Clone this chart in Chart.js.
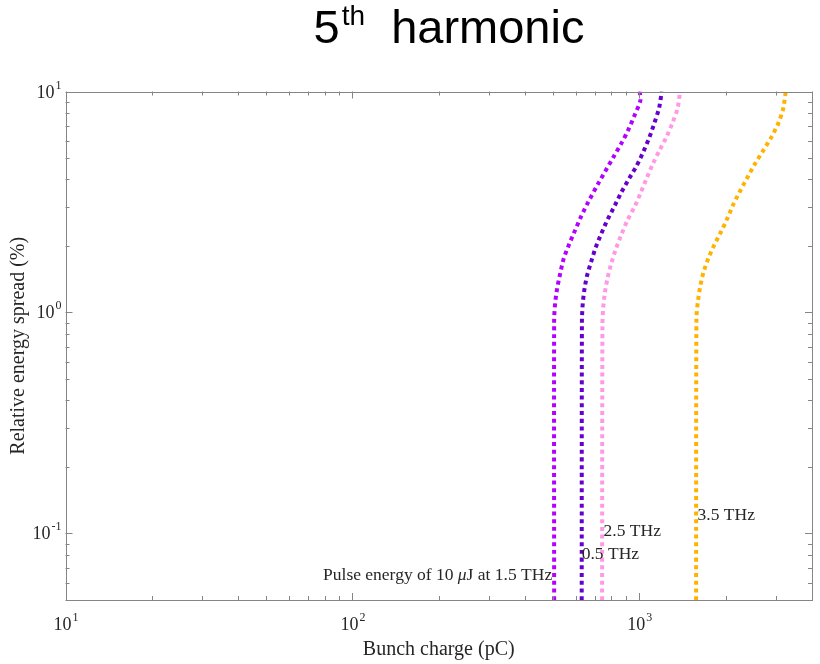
<!DOCTYPE html>
<html>
<head>
<meta charset="utf-8">
<script src="https://cdn.jsdelivr.net/npm/chart.js@4/dist/chart.umd.min.js"></script>
<style>
  html, body { margin: 0; padding: 0; background: #ffffff; }
  #wrap { width: 820px; height: 664px; }
</style>
</head>
<body>
<div id="wrap"><canvas id="chart" width="820" height="664"></canvas></div>
<script>
// Bunch charge (pC) vs relative energy spread (%) needed for 10 uJ, 5th harmonic
const seriesNames = ['1.5 THz', '0.5 THz', '2.5 THz', '3.5 THz'];
const seriesColors = ['#b400ff', '#6600cc', '#ff99e6', '#ffb300'];

const spread15 = [0.05, 0.93, 1.10, 1.28, 1.50, 1.75, 2.03, 2.35, 2.72, 3.15, 3.88, 4.46, 5.11, 5.87, 6.75, 7.83, 9.06, 10];
const charge15 = [505, 505, 509, 517, 530, 545, 569, 597, 627, 663, 723, 769, 817, 869, 918, 964, 1008, 1004];

const spread05 = [0.05, 0.90, 1.06, 1.24, 1.45, 1.69, 1.97, 2.28, 2.65, 3.05, 3.51, 4.03, 4.62, 5.35, 6.21, 7.23, 8.40, 10];
const charge05 = [630, 631, 634, 642, 656, 679, 705, 738, 777, 822, 867, 921, 980, 1034, 1085, 1130, 1172, 1198];

const spread25 = [0.05, 0.89, 1.04, 1.22, 1.43, 1.68, 1.95, 2.26, 2.61, 3.02, 3.49, 4.06, 4.69, 5.41, 6.23, 7.23, 8.40, 10];
const charge25 = [742, 744, 748, 758, 775, 800, 830, 867, 909, 964, 1012, 1062, 1114, 1176, 1244, 1306, 1361, 1387];

const spread35 = [0.05, 0.94, 1.11, 1.30, 1.52, 1.76, 2.03, 2.34, 2.70, 3.13, 3.61, 4.17, 4.77, 5.46, 6.25, 7.23, 8.40, 10];
const charge35 = [1578, 1582, 1599, 1629, 1674, 1742, 1828, 1934, 2037, 2138, 2263, 2402, 2547, 2717, 2894, 3060, 3176, 3240];

const seriesCharge = [charge15, charge05, charge25, charge35];
const seriesSpread = [spread15, spread05, spread25, spread35];

// Curve annotations: text and the energy spread at which each sits
const noteTexts = [['Pulse energy of 10 ', 'μ', 'J at 1.5 THz'], ['0.5 THz'], ['2.5 THz'], ['3.5 THz']];
const noteSpread = [0.0643, 0.0808, 0.102, 0.121];

// Axis ranges and decade tick exponents
const xRange = [10, 4000];
const yRange = [0.05, 10];
const xDecades = [1, 2, 3];
const yDecades = [-1, 0, 1];

const titleMain = '5';
const titleSup = 'th';
const titleRest = 'harmonic';
const xTitle = 'Bunch charge (pC)';
const yTitle = 'Relative energy spread (%)';

const SERIF = '"Liberation Serif", "Times New Roman", serif';
const SANS = '"Liberation Sans", Arial, sans-serif';
const AXIS_COLOR = '#858585';
const TEXT_COLOR = '#262626';

function minorValues(min, max) {
  const out = [];
  const lo = Math.floor(Math.log10(min)), hi = Math.ceil(Math.log10(max));
  for (let e = lo; e <= hi; e++) {
    for (let m = 1; m <= 9; m++) {
      const v = m * Math.pow(10, e);
      if (v >= min * 0.9999 && v <= max * 1.0001) out.push({ v, major: m === 1 });
    }
  }
  return out;
}

function drawPow(ctx, exp, x, y, align) {
  const base = '10';
  const sup = String(exp);
  ctx.font = '18px ' + SERIF;
  const wb = ctx.measureText(base).width;
  ctx.font = '12px ' + SERIF;
  const ws = ctx.measureText(sup).width;
  const left = align === 'center' ? x - (wb + ws) / 2 : x - (wb + ws);
  ctx.textBaseline = 'alphabetic';
  ctx.textAlign = 'left';
  ctx.font = '18px ' + SERIF;
  ctx.fillText(base, left, y);
  ctx.font = '12px ' + SERIF;
  ctx.fillText(sup, left + wb + 1, y - 9);
}

const framePlugin = {
  id: 'frame',
  afterDatasetsDraw(chart) {
    const ctx = chart.ctx;
    const a = chart.chartArea;
    const xs = chart.scales.x, ys = chart.scales.y;
    ctx.save();

    // curve annotations
    ctx.fillStyle = TEXT_COLOR;
    ctx.textBaseline = 'middle';
    noteTexts.forEach((parts, i) => {
      const px = xs.getPixelForValue(seriesCharge[i][0]);
      const py = ys.getPixelForValue(noteSpread[i]);
      const fonts = parts.map(p => (p === 'μ' ? 'italic 17.5px ' : '17.5px ') + SERIF);
      const widths = parts.map((p, k) => { ctx.font = fonts[k]; return ctx.measureText(p).width; });
      const total = widths.reduce((s, w) => s + w, 0);
      let x = i === 0 ? px - 2 - total : px + (i === 1 ? 0 : 1.5);
      ctx.textAlign = 'left';
      parts.forEach((p, k) => { ctx.font = fonts[k]; ctx.fillText(p, x, py); x += widths[k]; });
    });

    // frame
    ctx.strokeStyle = AXIS_COLOR;
    ctx.lineWidth = 1;
    ctx.strokeRect(Math.round(a.left) + 0.5, Math.round(a.top) + 0.5,
                   Math.round(a.right) - Math.round(a.left), Math.round(a.bottom) - Math.round(a.top));

    // inward ticks on all four sides
    ctx.beginPath();
    minorValues(xRange[0], xRange[1]).forEach(t => {
      const px = Math.round(xs.getPixelForValue(t.v)) + 0.5;
      const len = t.major ? 7 : 4;
      ctx.moveTo(px, a.bottom); ctx.lineTo(px, a.bottom - len);
      ctx.moveTo(px, a.top); ctx.lineTo(px, a.top + len);
    });
    minorValues(yRange[0], yRange[1]).forEach(t => {
      const py = Math.round(ys.getPixelForValue(t.v)) + 0.5;
      const len = t.major ? 7 : 4;
      ctx.moveTo(a.left, py); ctx.lineTo(a.left + len, py);
      ctx.moveTo(a.right, py); ctx.lineTo(a.right - len, py);
    });
    ctx.stroke();

    // tick labels
    ctx.fillStyle = TEXT_COLOR;
    xDecades.forEach(e => {
      const px = xs.getPixelForValue(Math.pow(10, e));
      drawPow(ctx, e, px, a.bottom + 30, 'center');
    });
    yDecades.forEach(e => {
      const py = ys.getPixelForValue(Math.pow(10, e));
      drawPow(ctx, e, a.left - 5, py + 6, 'right');
    });

    // axis titles
    ctx.font = '20px ' + SERIF;
    ctx.textAlign = 'center';
    ctx.textBaseline = 'alphabetic';
    ctx.fillText(xTitle, (a.left + a.right) / 2, 655);
    ctx.save();
    ctx.translate(24, (a.top + a.bottom) / 2);
    ctx.rotate(-Math.PI / 2);
    ctx.fillText(yTitle, 0, 0);
    ctx.restore();

    // chart title with superscript
    ctx.fillStyle = '#000000';
    ctx.textAlign = 'left';
    const fMain = '47px ' + SANS, fSup = '28px ' + SANS;
    ctx.font = fMain;
    const w5 = ctx.measureText(titleMain).width;
    const wRest = ctx.measureText(titleRest).width;
    const wGap = ctx.measureText('  ').width;
    ctx.font = fSup;
    const wSup = ctx.measureText(titleSup).width;
    const total = w5 + 2 + wSup + wGap + wRest;
    let tx = 449 - total / 2;
    const ty = 43;
    ctx.font = fMain; ctx.fillText(titleMain, tx, ty); tx += w5 + 2;
    ctx.font = fSup; ctx.fillText(titleSup, tx, ty - 18); tx += wSup + wGap;
    ctx.font = fMain; ctx.fillText(titleRest, tx, ty);

    ctx.restore();
  }
};

const datasets = seriesNames.map((name, i) => ({
  label: name,
  data: seriesCharge[i].map((c, k) => ({ x: c, y: seriesSpread[i][k] })),
  showLine: true,
  borderColor: seriesColors[i],
  backgroundColor: seriesColors[i],
  borderWidth: 4,
  borderDash: [4, 3.7],
  borderCapStyle: 'butt',
  pointRadius: 0,
  pointHoverRadius: 0,
  tension: 0.25,
  fill: false
}));

new Chart(document.getElementById('chart'), {
  type: 'scatter',
  data: { datasets },
  options: {
    responsive: false,
    animation: false,
    devicePixelRatio: 1,
    layout: { padding: { left: 65.5, right: 8, top: 91.5, bottom: 64 } },
    plugins: { legend: { display: false }, tooltip: { enabled: false }, title: { display: false } },
    scales: {
      x: { type: 'logarithmic', min: xRange[0], max: xRange[1], display: false },
      y: { type: 'logarithmic', min: yRange[0], max: yRange[1], display: false }
    }
  },
  plugins: [framePlugin]
});
</script>
</body>
</html>
